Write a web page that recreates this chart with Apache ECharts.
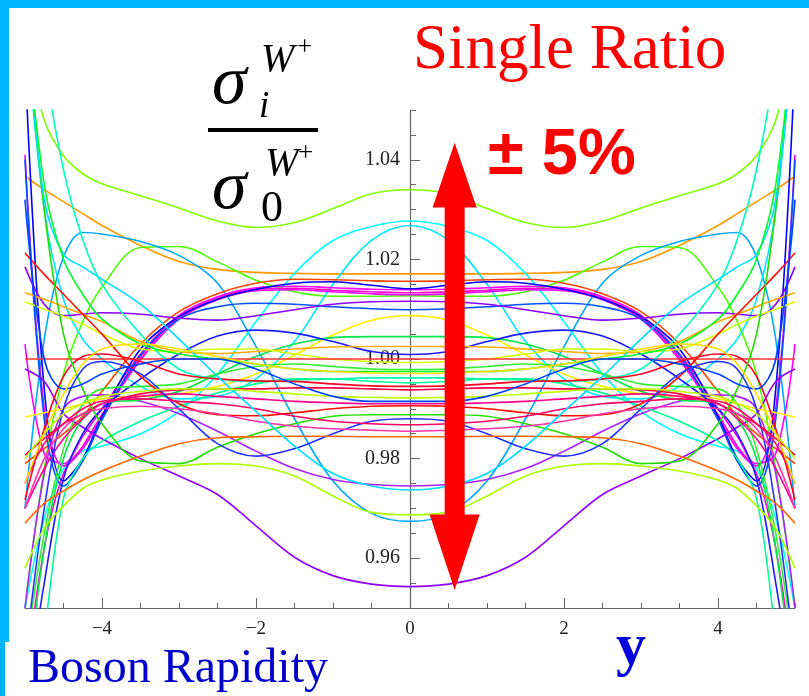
<!DOCTYPE html>
<html><head><meta charset="utf-8">
<script src="https://cdn.jsdelivr.net/npm/echarts@6/dist/echarts.min.js"></script>
<style>html,body{margin:0;padding:0;background:#fff}#c{width:809px;height:696px}</style>
</head><body><div id="c"></div>
<script>
// half-grid of rapidity values (curves are symmetric in y)
const X = [0, 0.5, 1, 1.5, 2, 2.5, 3, 3.5, 4, 4.25, 4.5, 4.75, 5];
const xTickLabels = [-4, -2, 0, 2, 4];
const yTickLabels = [0.96, 0.98, 1.00, 1.02, 1.04];

const c01 = [1.034,1.0332,1.0302,1.0274,1.0264,1.0277,1.0303,1.0328,1.0352,1.0372,1.0408,1.048,1.065];
const c02 = [1.0171,1.0171,1.0171,1.0172,1.0174,1.018,1.0196,1.0228,1.0268,1.0292,1.0316,1.034,1.0367];
const c03 = [1.0127,1.0126,1.0126,1.0135,1.0158,1.0195,1.0226,1.0224,1.0145,1.0075,0.997,0.978,0.95];
const c04 = [0.9674,0.969,0.9755,0.988,1.0025,1.0152,1.0208,1.0236,1.0251,1.0254,1.0205,1.004,0.97];
const c05 = [1.0268,1.0238,1.015,1.0035,0.996,0.9925,0.992,0.9945,1.0,1.004,1.012,1.03,1.07];
const c06 = [1.0277,1.0266,1.0238,1.0172,1.0075,0.997,0.9895,0.985,0.9825,0.9815,0.978,0.968,0.95];
const c07 = [1.0156,1.0157,1.0159,1.016,1.0152,1.0131,1.0095,1.003,0.9935,0.9885,0.985,0.982,0.979];
const c08 = [1.0139,1.014,1.0143,1.0146,1.0143,1.0125,1.0088,1.001,0.990,0.9845,0.979,0.981,1.003];
const c09 = [1.0133,1.0135,1.0138,1.0142,1.014,1.0122,1.0084,1.0003,0.9888,0.9825,0.977,0.962,0.935];
const c10 = [1.0129,1.0131,1.0135,1.0139,1.0137,1.0119,1.008,0.9998,0.9883,0.982,0.9785,0.99,1.041];
const c11 = [1.0141,1.0148,1.0155,1.0152,1.014,1.012,1.0085,1.002,0.9885,0.980,0.9755,0.994,1.06];
const c12 = [1.0099,1.0101,1.0105,1.011,1.0112,1.0105,1.008,1.0008,0.9878,0.9795,0.9745,0.988,1.04];
const c13 = [1.0116,1.0115,1.011,1.0099,1.0087,1.0078,1.0082,1.009,1.0093,1.009,1.0087,1.011,1.0185];
const c14 = [0.9543,0.9548,0.9565,0.9602,0.9665,0.9728,0.9765,0.980,0.984,0.9863,0.989,0.9955,0.998];
const c15 = [0.9745,0.9748,0.9758,0.978,0.9815,0.9855,0.989,0.9915,0.9928,0.9925,0.99,0.977,0.95];
const c16 = [1.0087,1.0078,1.0048,1.0008,0.997,0.9945,0.993,0.9925,0.992,0.991,0.990,0.9892,0.9883];
const c17 = [1.0045,1.0045,1.0043,1.003,1.0005,0.997,0.9935,0.9918,0.991,0.988,0.98,0.962,0.93];
const c18 = [1.0009,1.0015,1.0035,1.0052,1.0058,1.0046,1.001,0.996,0.990,0.985,0.976,0.955,0.93];
const c19 = [1.0025,1.0025,1.0024,1.002,1.0015,1.0011,1.0015,1.0035,1.0075,1.009,1.0105,1.012,1.0133];
const c20 = [0.9993,0.9995,1.0,1.001,1.002,1.002,1.0015,1.002,1.005,1.007,1.0086,1.010,1.0115];
const c21 = [1.0,1.0,1.0,1.0,1.0,1.0,1.0,1.0,1.0,1.0,1.0,1.0,1.0];
const c22 = [0.9979,0.998,0.9985,0.999,0.9985,0.997,0.995,0.9945,0.994,0.991,0.982,0.965,0.94];
const c23 = [0.9962,0.9962,0.996,0.9958,0.9955,0.996,0.998,1.005,1.015,1.024,1.038,1.06,1.09];
const c24 = [0.9952,0.9955,0.996,0.996,0.995,0.9932,0.9905,0.9875,0.9835,0.980,0.972,0.945,0.92];
const c25 = [0.9945,0.9946,0.995,0.9955,0.9956,0.996,0.997,0.9995,1.001,1.0005,0.9965,0.986,0.9717];
const c26 = [0.9938,0.994,0.9942,0.9942,0.994,0.994,0.9938,0.993,0.991,0.989,0.987,0.984,0.9807];
const c27 = [0.9906,0.9905,0.990,0.9892,0.9886,0.9888,0.991,0.9965,1.005,1.009,1.013,1.017,1.0213];
const c28 = [0.991,0.991,0.9912,0.9915,0.992,0.9925,0.993,0.9925,0.991,0.988,0.984,0.978,0.97];
const c29 = [0.9888,0.9888,0.9885,0.987,0.985,0.9823,0.979,0.9795,0.987,0.994,1.005,1.03,1.07];
const c30 = [0.988,0.9875,0.985,0.982,0.9805,0.983,0.990,0.997,0.9995,0.998,0.99,0.97,0.94];
const c31 = [0.9868,0.987,0.9875,0.9885,0.990,0.991,0.9915,0.992,0.9915,0.990,0.987,0.983,0.975];
const c32 = [0.9855,0.9857,0.986,0.9865,0.9875,0.989,0.990,0.9905,0.990,0.989,0.986,0.98,0.97];
const c33 = [0.9844,0.9844,0.9845,0.9845,0.9844,0.9842,0.983,0.9805,0.9775,0.9757,0.9735,0.971,0.967];
const c34 = [0.9687,0.9692,0.9725,0.9765,0.9785,0.979,0.9785,0.9775,0.9757,0.974,0.9705,0.966,0.958];
const c35 = [0.9737,0.9745,0.977,0.9825,0.9895,0.9965,1.004,1.011,1.016,1.0185,1.021,1.032,1.07];
const c36 = [0.9922,0.9923,0.9925,0.993,0.9935,0.994,0.994,0.9935,0.9925,0.991,0.989,0.985,0.98];
const c37 = [0.9975,0.9975,0.9975,0.998,0.999,1.0,1.001,1.003,1.008,1.013,1.02,1.035,1.07];
const c38 = [0.9915,0.9915,0.9925,0.995,0.998,1.0,1.0,0.999,0.997,0.995,0.994,1.0,1.032];
const c39 = [0.9971,0.9972,0.9975,0.998,0.999,1.0005,1.002,1.003,1.002,0.999,0.993,0.985,0.975];

const curveList = [c01,c02,c03,c04,c05,c06,c07,c08,c09,c10,c11,c12,c13,c14,c15,c16,c17,c18,c19,c20,
                   c21,c22,c23,c24,c25,c26,c27,c28,c29,c30,c31,c32,c33,c34,c35,c36,c37,c38,c39];
const curveColors = ['#80ff00','#ff9900','#4cff00','#00a8ff','#00e8ff','#00ffff','#ff4400','#ff00ff','#ff00cc','#e600ff',
                     '#0000ff','#0050ff','#8c00ff','#9400ff','#aa22ff','#ffee00','#00e64d','#1a1aff','#ffaa00','#d4ff00',
                     '#ff3333','#33ee33','#00ffbb','#00ff99','#ff0022','#ff0044','#ff1100','#ff0088','#22dd00','#2233ff',
                     '#ff0066','#ff33aa','#ff6600','#aaff00','#00ddff','#bbff00','#00ff22','#0040ff','#ffdd00'];

function mirror(vals) {
  const pts = [];
  for (let i = X.length - 1; i > 0; i--) pts.push([-X[i], vals[i]]);
  for (let i = 0; i < X.length; i++) pts.push([X[i], vals[i]]);
  return pts;
}

const series = curveList.map((v, i) => ({
  type: 'line', data: mirror(v), xAxisIndex: 0, yAxisIndex: 0,
  showSymbol: false, symbol: 'none', smooth: 0.35, clip: true,
  lineStyle: { color: curveColors[i], width: 1.6 }, z: 2
}));

const chart = echarts.init(document.getElementById('c'), null, { renderer: 'canvas' });
const axisCol = '#666';
const lblFont = { fontFamily: 'Liberation Serif', fontSize: 19, color: '#222' };
chart.setOption({
  animation: false,
  backgroundColor: '#ffffff',
  grid: { left: 25, right: 14, top: 110, bottom: 88, containLabel: false, outerBoundsMode: 'none' },
  xAxis: [
    { type: 'value', min: -5, max: 5, interval: 0.5, position: 'bottom',
      axisLine: { onZero: false, lineStyle: { color: axisCol, width: 1.2 } },
      axisTick: { inside: true, length: 5, lineStyle: { color: axisCol } },
      axisLabel: { show: false }, splitLine: { show: false } },
    { type: 'value', min: -5, max: 5, position: 'bottom',
      axisLine: { show: false, onZero: false },
      axisTick: { inside: true, length: 10, customValues: xTickLabels, lineStyle: { color: axisCol } },
      axisLabel: Object.assign({ customValues: xTickLabels, margin: 12,
        formatter: v => String(v).replace('-', '\u2212') }, lblFont),
      splitLine: { show: false } }
  ],
  yAxis: [
    { type: 'value', min: 0.95, max: 1.05, interval: 0.005, position: 'left',
      axisLine: { onZero: true, onZeroAxisIndex: 0, lineStyle: { color: axisCol, width: 1.2 } },
      axisTick: { inside: true, length: 6, lineStyle: { color: axisCol } },
      axisLabel: { show: false }, splitLine: { show: false } },
    { type: 'value', min: 0.95, max: 1.05, position: 'left',
      axisLine: { show: true, onZero: true, onZeroAxisIndex: 1, lineStyle: { color: axisCol, opacity: 0 } },
      axisTick: { inside: true, length: 10, customValues: yTickLabels, lineStyle: { color: axisCol } },
      axisLabel: { show: false },
      splitLine: { show: false } }
  ],
  series: series
});

const toPx = p => chart.convertToPixel({ xAxisIndex: 0, yAxisIndex: 0 }, p);

// y tick labels placed beside the axis that sits at x = 0
const yLabelGraphics = yTickLabels.map(t => {
  const p = toPx([0, t]);
  return { type: 'text', x: p[0] - 10, y: p[1], z: 1, silent: true,
    style: { text: t.toFixed(2), fill: '#222', font: '20px "Liberation Serif"', align: 'right', verticalAlign: 'middle' } };
});

// annotation: +-5% double arrow, placed in data coordinates
const ARROW_X = 0.58, ARROW_TOP = 1.0434, ARROW_TOPBASE = 1.0304, ARROW_BOTBASE = 0.9688, ARROW_BOT = 0.9536;
const pT = toPx([ARROW_X, ARROW_TOP]), pTB = toPx([ARROW_X, ARROW_TOPBASE]);
const pBB = toPx([ARROW_X, ARROW_BOTBASE]), pB = toPx([ARROW_X, ARROW_BOT]);
const cx = pT[0];
const arrowPts = [[cx, pT[1]], [cx + 22, pTB[1]], [cx + 10, pTB[1]], [cx + 10, pBB[1]], [cx + 25, pBB[1]],
  [cx, pB[1]], [cx - 25, pBB[1]], [cx - 10, pBB[1]], [cx - 10, pTB[1]], [cx - 22, pTB[1]]];

chart.setOption({
  graphic: yLabelGraphics.concat([
    { type: 'rect', shape: { x: 0, y: 0, width: 809, height: 8 }, style: { fill: '#00b4ff' }, z: 100 },
    { type: 'rect', shape: { x: 0, y: 0, width: 9, height: 642 }, style: { fill: '#00b4ff' }, z: 100 },
    { type: 'rect', shape: { x: 0, y: 642, width: 5, height: 54 }, style: { fill: '#00b4ff' }, z: 100 },
    { type: 'polygon', shape: { points: arrowPts }, style: { fill: '#ff0000' }, z: 50 },
    { type: 'text', x: 413, y: 51, z: 60, style: { text: 'Single Ratio', fill: '#ff0000',
      font: '63px "Liberation Serif"', verticalAlign: 'middle', align: 'left' } },
    { type: 'text', x: 488, y: 156, z: 60, style: { text: '\u00b1 5%', fill: '#ff0000',
      font: 'bold 65px "Liberation Sans"', verticalAlign: 'middle', align: 'left' } },
    // sigma ratio label
    { type: 'text', x: 212, y: 85, z: 60, style: { text: '\u03c3', fill: '#000', font: 'italic 70px "Liberation Serif"', verticalAlign: 'middle' } },
    { type: 'text', x: 261, y: 60, z: 60, style: { text: 'W', fill: '#000', font: 'italic 40px "Liberation Serif"', verticalAlign: 'middle' } },
    { type: 'text', x: 297, y: 48, z: 60, style: { text: '+', fill: '#000', font: '27px "Liberation Serif"', verticalAlign: 'middle' } },
    { type: 'text', x: 259, y: 107, z: 60, style: { text: 'i', fill: '#000', font: 'italic 37px "Liberation Serif"', verticalAlign: 'middle' } },
    { type: 'rect', shape: { x: 208, y: 128, width: 110, height: 4 }, style: { fill: '#000' }, z: 60 },
    { type: 'text', x: 212, y: 190, z: 60, style: { text: '\u03c3', fill: '#000', font: 'italic 70px "Liberation Serif"', verticalAlign: 'middle' } },
    { type: 'text', x: 265, y: 164, z: 60, style: { text: 'W', fill: '#000', font: 'italic 40px "Liberation Serif"', verticalAlign: 'middle' } },
    { type: 'text', x: 298, y: 154, z: 60, style: { text: '+', fill: '#000', font: '27px "Liberation Serif"', verticalAlign: 'middle' } },
    { type: 'text', x: 261, y: 209, z: 60, style: { text: '0', fill: '#000', font: '44px "Liberation Serif"', verticalAlign: 'middle' } },
    { type: 'text', x: 28, y: 669, z: 60, style: { text: 'Boson Rapidity', fill: '#0000cc', font: '48px "Liberation Serif"', verticalAlign: 'middle' } },
    { type: 'text', x: 616, y: 648, z: 60, style: { text: 'y', fill: '#0000dd', font: 'bold 60px "Liberation Serif"', verticalAlign: 'middle' } }
  ])
});
</script></body></html>
